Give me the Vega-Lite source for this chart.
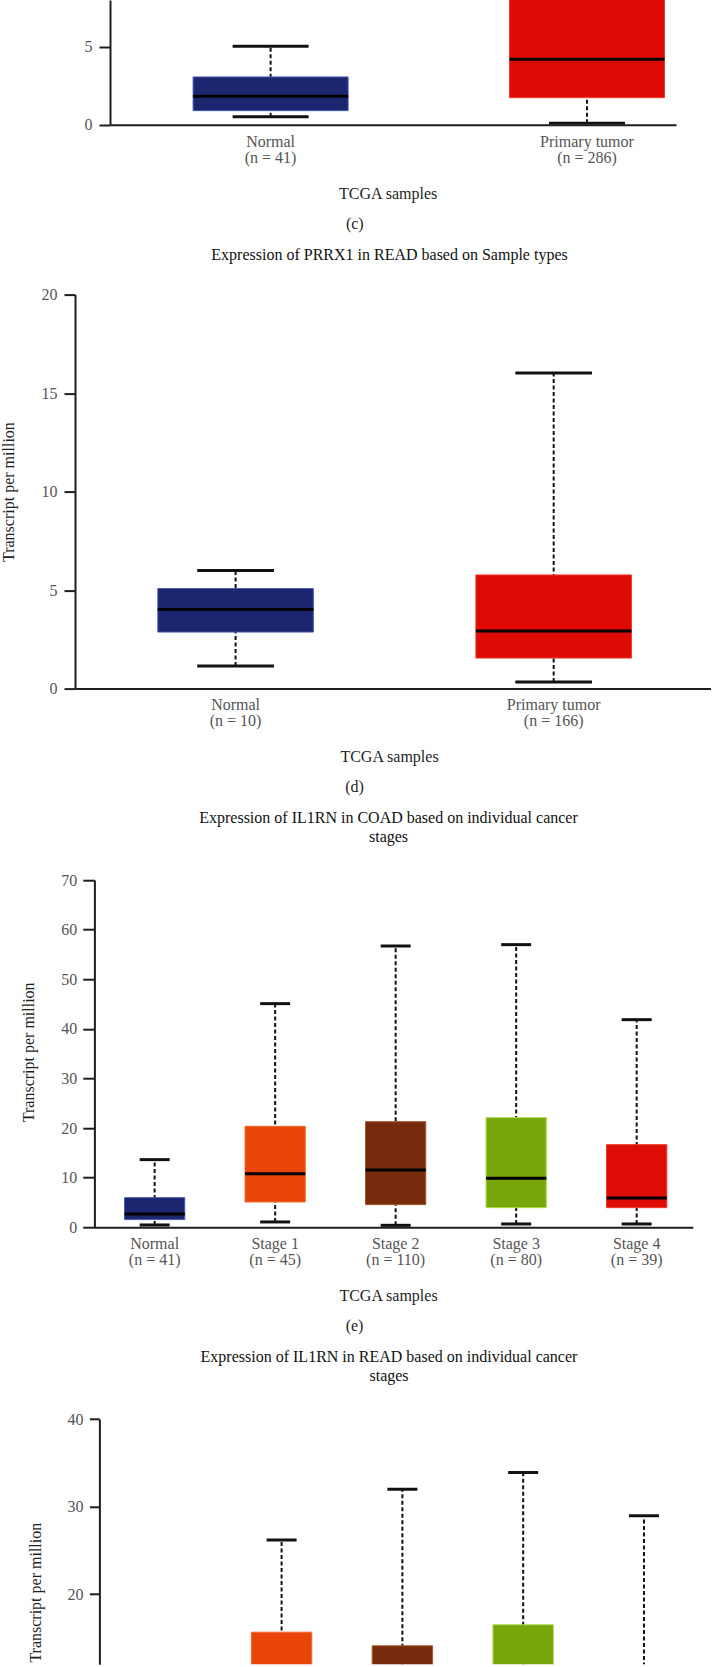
{
"$schema": "https://vega.github.io/schema/vega-lite/v6.json",
"background": "white",
"padding": 0,
"bounds": "flush",
"spacing": 169.6,
"resolve": {"scale": {"color": "independent", "stroke": "independent"}},
"datasets": {
 "c": [
  {"group": "Normal\n(n = 41)", "min": 0.51, "q1": 0.9, "median": 1.82, "q3": 3.06, "max": 5.03},
  {"group": "Primary tumor\n(n = 286)", "min": 0.09, "q1": 1.73, "median": 4.19, "q3": 10.5, "max": 22}
 ],
 "d": [
  {"group": "Normal\n(n = 10)", "min": 1.15, "q1": 2.87, "median": 4.01, "q3": 5.08, "max": 5.99},
  {"group": "Primary tumor\n(n = 166)", "min": 0.34, "q1": 1.55, "median": 2.92, "q3": 5.77, "max": 16.02}
 ],
 "e": [
  {"group": "Normal\n(n = 41)", "min": 0.47, "q1": 1.55, "median": 2.69, "q3": 5.98, "max": 13.64},
  {"group": "Stage 1\n(n = 45)", "min": 1.08, "q1": 5.1, "median": 10.81, "q3": 20.35, "max": 45.08},
  {"group": "Stage 2\n(n = 110)", "min": 0.4, "q1": 4.57, "median": 11.55, "q3": 21.29, "max": 56.7},
  {"group": "Stage 3\n(n = 80)", "min": 0.67, "q1": 3.96, "median": 9.87, "q3": 22.1, "max": 56.97},
  {"group": "Stage 4\n(n = 39)", "min": 0.67, "q1": 3.96, "median": 5.91, "q3": 16.66, "max": 41.85}
 ],
 "f": [
  {"group": "Stage 1", "min": 1.0, "q1": 4.0, "median": 8.5, "q3": 15.66, "max": 26.2},
  {"group": "Stage 2", "min": 0.5, "q1": 3.5, "median": 7.5, "q3": 14.1, "max": 32.0},
  {"group": "Stage 3", "min": 0.8, "q1": 4.0, "median": 9.0, "q3": 16.5, "max": 33.9},
  {"group": "Stage 4", "min": 0.6, "q1": 2.5, "median": 5.0, "q3": 10.0, "max": 28.97}
 ]
},
"vconcat": [
 {
  "width": 601, "height": 124.7,
  "data": {"name": "c"},
  "resolve": {"axis": {"x": "independent"}},
  "layer": [
   {"mark": {"type": "rule", "strokeDash": [4, 2.5], "strokeWidth": 2, "color": "#111111", "opacity": 1, "clip": true},
    "encoding": {
     "x": {"field": "group", "type": "nominal", "scale": {"type": "band", "domain": ["Normal\n(n = 41)", "Primary tumor\n(n = 286)"], "range": [35, 601], "paddingInner": 0.51, "paddingOuter": 0.1495, "align": 0.8784},
           "axis": {"orient": "bottom", "labelExpr": "split(datum.label, '\\n')", "title": "TCGA samples", "titleX": 312.6, "titleY": 73.6}},
     "y": {"field": "min", "type": "quantitative", "scale": {"domain": [0, 7.99], "range": [124.7, 0], "nice": false, "zero": false}, "axis": {"values": [0, 5], "title": null, "offset": -35, "tickSize": 11, "labelPadding": 7}},
     "y2": {"field": "max"}}},
   {"transform": [{"fold": ["min", "max"], "as": ["stat", "v"]}],
    "mark": {"type": "tick", "size": 76, "thickness": 3, "color": "#111111", "opacity": 1, "clip": true},
    "encoding": {
     "x": {"field": "group", "type": "nominal", "scale": {"type": "band", "domain": ["Normal\n(n = 41)", "Primary tumor\n(n = 286)"], "range": [35, 601], "paddingInner": 0.51, "paddingOuter": 0.1495, "align": 0.8784}, "axis": null},
     "y": {"field": "v", "type": "quantitative", "scale": {"domain": [0, 7.99], "range": [124.7, 0], "nice": false, "zero": false}, "axis": {"values": [0, 5], "title": null, "offset": -35, "tickSize": 11, "labelPadding": 7}}}},
   {"mark": {"type": "bar", "opacity": 1, "strokeWidth": 1, "clip": true},
    "encoding": {
     "x": {"field": "group", "type": "nominal", "scale": {"type": "band", "domain": ["Normal\n(n = 41)", "Primary tumor\n(n = 286)"], "range": [35, 601], "paddingInner": 0.51, "paddingOuter": 0.1495, "align": 0.8784},
           "axis": {"orient": "bottom", "labels": false, "domain": false, "ticks": false, "title": "(c)", "titleX": 279.3, "titleY": 104.1}},
     "y": {"field": "q1", "type": "quantitative", "scale": {"domain": [0, 7.99], "range": [124.7, 0], "nice": false, "zero": false}, "axis": {"values": [0, 5], "title": null, "offset": -35, "tickSize": 11, "labelPadding": 7}},
     "y2": {"field": "q3"},
     "color": {"field": "group", "type": "nominal", "scale": {"domain": ["Normal\n(n = 41)", "Primary tumor\n(n = 286)"], "range": ["#1c266e", "#de0b04"]}, "legend": null},
     "stroke": {"field": "group", "type": "nominal", "scale": {"domain": ["Normal\n(n = 41)", "Primary tumor\n(n = 286)"], "range": ["#4a5ab4", "#ee3a30"]}, "legend": null}}},
   {"mark": {"type": "tick", "size": 155, "thickness": 3, "color": "#000000", "opacity": 1, "clip": true},
    "encoding": {
     "x": {"field": "group", "type": "nominal", "scale": {"type": "band", "domain": ["Normal\n(n = 41)", "Primary tumor\n(n = 286)"], "range": [35, 601], "paddingInner": 0.51, "paddingOuter": 0.1495, "align": 0.8784}, "axis": null},
     "y": {"field": "median", "type": "quantitative", "scale": {"domain": [0, 7.99], "range": [124.7, 0], "nice": false, "zero": false}, "axis": {"values": [0, 5], "title": null, "offset": -35, "tickSize": 11, "labelPadding": 7}}}}
  ]
 },
 {
  "width": 636, "height": 394,
  "data": {"name": "d"},
  "resolve": {"axis": {"x": "independent"}},
  "layer": [
   {"mark": {"type": "rule", "strokeDash": [4, 2.5], "strokeWidth": 2, "color": "#111111", "opacity": 1},
    "encoding": {
     "x": {"field": "group", "type": "nominal", "scale": {"type": "band", "domain": ["Normal\n(n = 10)", "Primary tumor\n(n = 166)"], "range": [0, 636], "paddingInner": 0.511, "paddingOuter": 0.2552, "align": 0.51},
           "axis": {"orient": "bottom", "labelExpr": "split(datum.label, '\\n')", "title": "TCGA samples", "titleX": 314, "titleY": 72.4}},
     "y": {"field": "min", "type": "quantitative", "scale": {"domain": [0, 20], "range": [394, 0], "nice": false, "zero": false}, "axis": {"values": [0, 5, 10, 15, 20], "title": "Transcript per million", "titleX": -62, "tickSize": 11, "labelPadding": 7}},
     "y2": {"field": "max"}}},
   {"transform": [{"fold": ["min", "max"], "as": ["stat", "v"]}],
    "mark": {"type": "tick", "size": 76.7, "thickness": 3, "color": "#111111", "opacity": 1},
    "encoding": {
     "x": {"field": "group", "type": "nominal", "scale": {"type": "band", "domain": ["Normal\n(n = 10)", "Primary tumor\n(n = 166)"], "range": [0, 636], "paddingInner": 0.511, "paddingOuter": 0.2552, "align": 0.51},
           "axis": {"orient": "top", "labels": false, "domain": false, "ticks": false, "title": "Expression of PRRX1 in READ based on Sample types", "titleX": 314, "titleY": -35.4, "titleColor": "#111111"}},
     "y": {"field": "v", "type": "quantitative", "scale": {"domain": [0, 20], "range": [394, 0], "nice": false, "zero": false}, "axis": {"values": [0, 5, 10, 15, 20], "title": "Transcript per million", "titleX": -62, "tickSize": 11, "labelPadding": 7}}}},
   {"mark": {"type": "bar", "opacity": 1, "strokeWidth": 1},
    "encoding": {
     "x": {"field": "group", "type": "nominal", "scale": {"type": "band", "domain": ["Normal\n(n = 10)", "Primary tumor\n(n = 166)"], "range": [0, 636], "paddingInner": 0.511, "paddingOuter": 0.2552, "align": 0.51},
           "axis": {"orient": "bottom", "labels": false, "domain": false, "ticks": false, "title": "(d)", "titleX": 279, "titleY": 102.8}},
     "y": {"field": "q1", "type": "quantitative", "scale": {"domain": [0, 20], "range": [394, 0], "nice": false, "zero": false}, "axis": {"values": [0, 5, 10, 15, 20], "title": "Transcript per million", "titleX": -62, "tickSize": 11, "labelPadding": 7}},
     "y2": {"field": "q3"},
     "color": {"field": "group", "type": "nominal", "scale": {"domain": ["Normal\n(n = 10)", "Primary tumor\n(n = 166)"], "range": ["#1c266e", "#de0b04"]}, "legend": null},
     "stroke": {"field": "group", "type": "nominal", "scale": {"domain": ["Normal\n(n = 10)", "Primary tumor\n(n = 166)"], "range": ["#4a5ab4", "#ee3a30"]}, "legend": null}}},
   {"mark": {"type": "tick", "size": 155.5, "thickness": 3, "color": "#000000", "opacity": 1},
    "encoding": {
     "x": {"field": "group", "type": "nominal", "scale": {"type": "band", "domain": ["Normal\n(n = 10)", "Primary tumor\n(n = 166)"], "range": [0, 636], "paddingInner": 0.511, "paddingOuter": 0.2552, "align": 0.51}, "axis": null},
     "y": {"field": "median", "type": "quantitative", "scale": {"domain": [0, 20], "range": [394, 0], "nice": false, "zero": false}, "axis": {"values": [0, 5, 10, 15, 20], "title": "Transcript per million", "titleX": -62, "tickSize": 11, "labelPadding": 7}}}}
  ]
 },
 {
  "width": 617.8, "height": 369.1,
  "data": {"name": "e"},
  "resolve": {"axis": {"x": "independent"}},
  "layer": [
   {"mark": {"type": "rule", "strokeDash": [4, 2.5], "strokeWidth": 2, "color": "#111111", "opacity": 1},
    "encoding": {
     "x": {"field": "group", "type": "nominal", "scale": {"type": "band", "domain": ["Normal\n(n = 41)", "Stage 1\n(n = 45)", "Stage 2\n(n = 110)", "Stage 3\n(n = 80)", "Stage 4\n(n = 39)"], "range": [19.4, 617.8], "paddingInner": 0.5, "paddingOuter": 0.2328, "align": 0.5367},
           "axis": {"orient": "bottom", "labelExpr": "split(datum.label, '\\n')", "title": "TCGA samples", "titleX": 313, "titleY": 72.7}},
     "y": {"field": "min", "type": "quantitative", "scale": {"domain": [0, 70], "range": [369.1, 21.8], "nice": false, "zero": false}, "axis": {"values": [0, 10, 20, 30, 40, 50, 60, 70], "title": "Transcript per million", "offset": -19.4, "titleX": -61.2, "titleY": 193.6, "tickSize": 11.6, "labelPadding": 6}},
     "y2": {"field": "max"}}},
   {"transform": [{"fold": ["min", "max"], "as": ["stat", "v"]}],
    "mark": {"type": "tick", "size": 30, "thickness": 3, "color": "#111111", "opacity": 1},
    "encoding": {
     "x": {"field": "group", "type": "nominal", "scale": {"type": "band", "domain": ["Normal\n(n = 41)", "Stage 1\n(n = 45)", "Stage 2\n(n = 110)", "Stage 3\n(n = 80)", "Stage 4\n(n = 39)"], "range": [19.4, 617.8], "paddingInner": 0.5, "paddingOuter": 0.2328, "align": 0.5367},
           "axis": {"orient": "top", "labels": false, "domain": false, "ticks": false, "title": ["Expression of IL1RN in COAD based on individual cancer", "stages"], "titleX": 313, "titleY": -35.6, "titleLineHeight": 19, "titleColor": "#111111"}},
     "y": {"field": "v", "type": "quantitative", "scale": {"domain": [0, 70], "range": [369.1, 21.8], "nice": false, "zero": false}, "axis": {"values": [0, 10, 20, 30, 40, 50, 60, 70], "title": "Transcript per million", "offset": -19.4, "titleX": -61.2, "titleY": 193.6, "tickSize": 11.6, "labelPadding": 6}}}},
   {"mark": {"type": "bar", "opacity": 1, "strokeWidth": 1},
    "encoding": {
     "x": {"field": "group", "type": "nominal", "scale": {"type": "band", "domain": ["Normal\n(n = 41)", "Stage 1\n(n = 45)", "Stage 2\n(n = 110)", "Stage 3\n(n = 80)", "Stage 4\n(n = 39)"], "range": [19.4, 617.8], "paddingInner": 0.5, "paddingOuter": 0.2328, "align": 0.5367},
           "axis": {"orient": "bottom", "labels": false, "domain": false, "ticks": false, "title": "(e)", "titleX": 279, "titleY": 103.4}},
     "y": {"field": "q1", "type": "quantitative", "scale": {"domain": [0, 70], "range": [369.1, 21.8], "nice": false, "zero": false}, "axis": {"values": [0, 10, 20, 30, 40, 50, 60, 70], "title": "Transcript per million", "offset": -19.4, "titleX": -61.2, "titleY": 193.6, "tickSize": 11.6, "labelPadding": 6}},
     "y2": {"field": "q3"},
     "color": {"field": "group", "type": "nominal", "scale": {"domain": ["Normal\n(n = 41)", "Stage 1\n(n = 45)", "Stage 2\n(n = 110)", "Stage 3\n(n = 80)", "Stage 4\n(n = 39)"], "range": ["#1c266e", "#ea4508", "#772a0c", "#77a70b", "#dd0c06"]}, "legend": null},
     "stroke": {"field": "group", "type": "nominal", "scale": {"domain": ["Normal\n(n = 41)", "Stage 1\n(n = 45)", "Stage 2\n(n = 110)", "Stage 3\n(n = 80)", "Stage 4\n(n = 39)"], "range": ["#4a5ab4", "#f06a30", "#a85a2a", "#b2d84a", "#ee3a30"]}, "legend": null}}},
   {"mark": {"type": "tick", "size": 60.3, "thickness": 3, "color": "#000000", "opacity": 1},
    "encoding": {
     "x": {"field": "group", "type": "nominal", "scale": {"type": "band", "domain": ["Normal\n(n = 41)", "Stage 1\n(n = 45)", "Stage 2\n(n = 110)", "Stage 3\n(n = 80)", "Stage 4\n(n = 39)"], "range": [19.4, 617.8], "paddingInner": 0.5, "paddingOuter": 0.2328, "align": 0.5367}, "axis": null},
     "y": {"field": "median", "type": "quantitative", "scale": {"domain": [0, 70], "range": [369.1, 21.8], "nice": false, "zero": false}, "axis": {"values": [0, 10, 20, 30, 40, 50, 60, 70], "title": "Transcript per million", "offset": -19.4, "titleX": -61.2, "titleY": 193.6, "tickSize": 11.6, "labelPadding": 6}}}}
  ]
 },
 {
  "width": 624.4, "height": 266.4,
  "data": {"name": "f"},
  "resolve": {"axis": {"x": "independent"}},
  "layer": [
   {"mark": {"type": "rule", "strokeDash": [4, 2.5], "strokeWidth": 2, "color": "#111111", "opacity": 1, "clip": true},
    "encoding": {
     "x": {"field": "group", "type": "nominal", "scale": {"type": "band", "domain": ["Normal", "Stage 1", "Stage 2", "Stage 3", "Stage 4"], "range": [24.4, 624.4], "paddingInner": 0.5, "paddingOuter": 0.2336, "align": 0.5528},
           "axis": {"orient": "top", "labels": false, "domain": false, "ticks": false, "title": ["Expression of IL1RN in READ based on individual cancer", "stages"], "titleX": 313.5, "titleY": -36, "titleLineHeight": 19, "titleColor": "#111111"}},
     "y": {"field": "min", "type": "quantitative", "scale": {"domain": [12, 40], "range": [266.4, 21.4], "nice": false, "zero": false}, "axis": {"values": [20, 30, 40], "title": "Transcript per million", "offset": -24.4, "titleX": -59.4, "titleY": 194.4, "tickSize": 10, "labelPadding": 6.4}},
     "y2": {"field": "max"}}},
   {"transform": [{"fold": ["min", "max"], "as": ["stat", "v"]}],
    "mark": {"type": "tick", "size": 30, "thickness": 3, "color": "#111111", "opacity": 1, "clip": true},
    "encoding": {
     "x": {"field": "group", "type": "nominal", "scale": {"type": "band", "domain": ["Normal", "Stage 1", "Stage 2", "Stage 3", "Stage 4"], "range": [24.4, 624.4], "paddingInner": 0.5, "paddingOuter": 0.2336, "align": 0.5528}, "axis": null},
     "y": {"field": "v", "type": "quantitative", "scale": {"domain": [12, 40], "range": [266.4, 21.4], "nice": false, "zero": false}, "axis": {"values": [20, 30, 40], "title": "Transcript per million", "offset": -24.4, "titleX": -59.4, "titleY": 194.4, "tickSize": 10, "labelPadding": 6.4}}}},
   {"mark": {"type": "bar", "opacity": 1, "strokeWidth": 1, "clip": true},
    "encoding": {
     "x": {"field": "group", "type": "nominal", "scale": {"type": "band", "domain": ["Normal", "Stage 1", "Stage 2", "Stage 3", "Stage 4"], "range": [24.4, 624.4], "paddingInner": 0.5, "paddingOuter": 0.2336, "align": 0.5528}, "axis": null},
     "y": {"field": "q1", "type": "quantitative", "scale": {"domain": [12, 40], "range": [266.4, 21.4], "nice": false, "zero": false}, "axis": {"values": [20, 30, 40], "title": "Transcript per million", "offset": -24.4, "titleX": -59.4, "titleY": 194.4, "tickSize": 10, "labelPadding": 6.4}},
     "y2": {"field": "q3"},
     "color": {"field": "group", "type": "nominal", "scale": {"domain": ["Normal", "Stage 1", "Stage 2", "Stage 3", "Stage 4"], "range": ["#1c266e", "#ea4508", "#772a0c", "#77a70b", "#dd0c06"]}, "legend": null},
     "stroke": {"field": "group", "type": "nominal", "scale": {"domain": ["Normal", "Stage 1", "Stage 2", "Stage 3", "Stage 4"], "range": ["#4a5ab4", "#f06a30", "#a85a2a", "#b2d84a", "#ee3a30"]}, "legend": null}}},
   {"mark": {"type": "tick", "size": 60.4, "thickness": 3, "color": "#000000", "opacity": 1, "clip": true},
    "encoding": {
     "x": {"field": "group", "type": "nominal", "scale": {"type": "band", "domain": ["Normal", "Stage 1", "Stage 2", "Stage 3", "Stage 4"], "range": [24.4, 624.4], "paddingInner": 0.5, "paddingOuter": 0.2336, "align": 0.5528}, "axis": null},
     "y": {"field": "median", "type": "quantitative", "scale": {"domain": [12, 40], "range": [266.4, 21.4], "nice": false, "zero": false}, "axis": {"values": [20, 30, 40], "title": "Transcript per million", "offset": -24.4, "titleX": -59.4, "titleY": 194.4, "tickSize": 10, "labelPadding": 6.4}}}}
  ]
 }
],
"config": {
 "view": {"stroke": null},
 "font": "Liberation Serif",
 "axis": {
  "domainColor": "#1e1e1e", "domainWidth": 2, "tickColor": "#1e1e1e", "tickWidth": 2,
  "labelColor": "#555555", "labelFont": "Liberation Serif", "labelFontSize": 16,
  "titleFont": "Liberation Serif", "titleFontSize": 16, "titleFontWeight": "normal", "titleColor": "#1e1e1e",
  "titleBaseline": "alphabetic", "titleAlign": "center", "grid": false, "labelOverlap": false, "labelFlush": false
 },
 "axisX": {"ticks": false, "tickSize": 0, "labelPadding": 8.3, "labelLineHeight": 16, "labelAngle": 0},
 "axisY": {"titleAngle": 270}
}
}
